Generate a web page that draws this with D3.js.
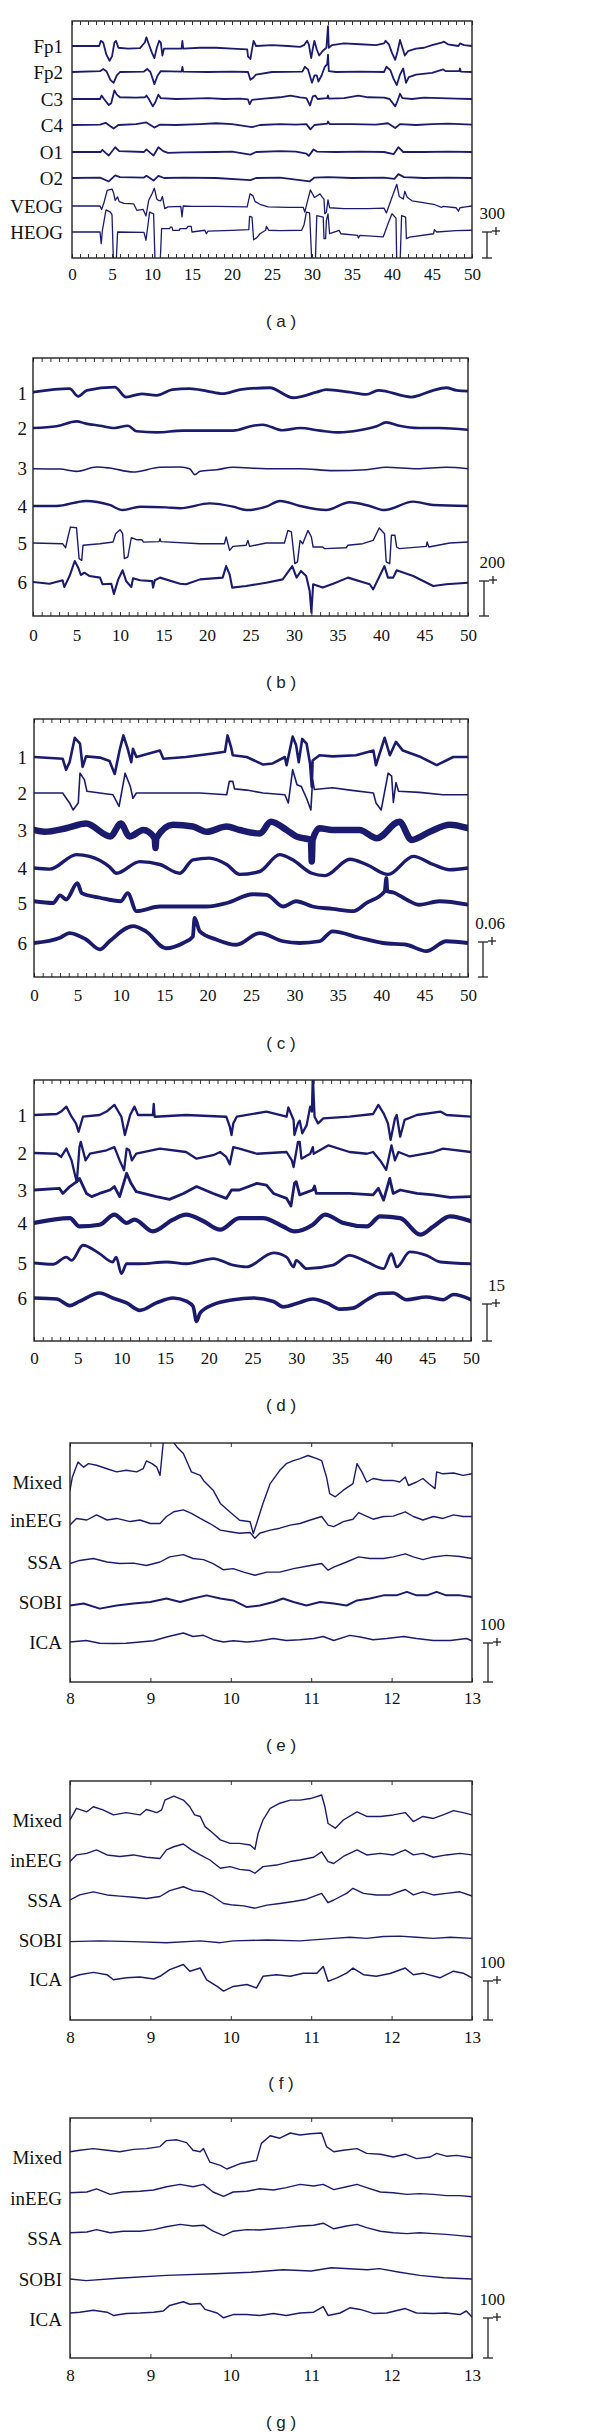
<!DOCTYPE html>
<html>
<head>
<meta charset="utf-8">
<script src="https://cdn.jsdelivr.net/npm/d3@7"></script>
<style>
body { margin: 0; background: #fff; }
</style>
</head>
<body>
<div id="chart"></div>
<script>
// ---- panel (a): raw channels, [seconds, uV] ----
var aNames = ['Fp1', 'Fp2', 'C3', 'C4', 'O1', 'O2', 'VEOG', 'HEOG'];
var aFp1 = [[0,0],[3.4,0],[3.6,60],[3.9,40],[4.3,-100],[4.7,-170],[5.0,-120],[5.3,40],[5.5,60],[5.8,-20],[7,-30],[8.5,-25],[9.1,40],[9.3,100],[9.6,20],[10.0,-80],[10.3,-140],[10.6,-20],[10.9,60],[11.1,40],[11.3,-110],[11.5,-30],[12.5,-30],[13.7,-30],[13.8,60],[13.9,-30],[16,-20],[18,-20],[20,-30],[21.9,-40],[22.0,-120],[22.3,-150],[22.5,-40],[22.7,60],[23,0],[25,10],[27,0],[28.5,-10],[29.0,10],[29.4,60],[29.6,20],[29.9,-140],[30.1,-30],[30.3,60],[30.6,-40],[30.9,-110],[31.3,-60],[31.8,-20],[31.9,100],[32.0,230],[32.1,-20],[32.5,10],[34,30],[36,20],[38,10],[39,30],[39.2,60],[39.6,20],[40.0,-80],[40.4,-160],[40.7,-60],[41.0,70],[41.3,-20],[41.6,-110],[42,-60],[43,-30],[44,-20],[45,10],[46.2,40],[46.5,50],[47,20],[48.3,0],[48.5,30],[49,10],[50,0]];
var aFp2 = [[0,0],[3.5,10],[3.9,35],[4.3,10],[4.8,-90],[5.2,-125],[5.6,-40],[6,0],[9,5],[9.4,35],[9.8,0],[10.3,-140],[10.7,-40],[11.1,10],[13.7,5],[13.8,60],[13.9,5],[17,0],[20,5],[22,0],[22.3,-90],[22.6,-70],[23,-30],[25,0],[28.8,5],[29.1,60],[29.5,30],[30.0,-125],[30.3,-40],[30.6,-40],[30.8,-110],[31.2,-40],[31.6,60],[31.9,90],[32.0,200],[32.1,10],[33,0],[36,5],[39,0],[39.3,60],[39.8,20],[40.2,-80],[40.6,-150],[41.0,-30],[41.4,40],[41.75,-125],[42.1,-60],[43,-30],[45,-10],[46.4,30],[46.7,10],[48.4,10],[48.5,40],[48.6,5],[50,0]];
var aC3 = [[0,0],[3.5,0],[3.7,40],[4.0,0],[4.6,-70],[4.9,-50],[5.3,100],[5.6,50],[6,20],[8,15],[9.1,20],[9.3,40],[9.6,0],[10.1,-85],[10.4,-40],[10.8,50],[11.1,10],[13,0],[15,5],[17,10],[19,0],[21,5],[22,-5],[22.2,-60],[22.5,-10],[24,5],[26,20],[27.3,40],[28.5,20],[29.3,10],[29.75,-75],[30.1,30],[30.4,40],[30.7,0],[31.9,10],[32.0,40],[32.1,5],[34,10],[35.8,40],[37,20],[39,15],[39.7,0],[40.4,-85],[40.7,-20],[41.0,60],[41.3,10],[42.5,0],[44,15],[46,10],[48,5],[50,0]];
var aC4 = [[0,0],[3.5,5],[4.2,25],[5.2,-40],[5.8,0],[8,10],[9.3,30],[10.3,-30],[11,5],[13,0],[16,10],[18,20],[20,10],[22.5,-25],[23.5,0],[26,10],[28,5],[29.3,10],[29.8,-50],[30.3,0],[31.9,15],[32,40],[32.2,10],[35,10],[38,5],[39.5,20],[40.4,-35],[41,10],[43,0],[45,10],[47,15],[50,5]];
var aO1 = [[0,0],[3.6,0],[3.8,25],[4.2,-10],[4.6,-40],[5.4,55],[5.9,10],[9,0],[9.3,30],[9.8,-10],[10.2,-40],[10.8,55],[11.4,10],[12,-10],[14,-5],[18,0],[20,5],[22.3,-30],[23,0],[26,10],[28,5],[29.3,-20],[29.6,-45],[30.2,30],[30.6,5],[33,0],[36,5],[39,0],[40.2,-25],[40.8,55],[41.4,0],[44,0],[47,5],[50,0]];
var aO2 = [[0,0],[3.5,5],[4.6,-40],[5.4,30],[6,10],[9,5],[9.3,25],[10.2,-30],[10.8,25],[11.5,0],[14,5],[18,0],[22.3,-25],[23,0],[26,5],[29.7,-40],[30.3,5],[32,10],[35,0],[39,5],[40.3,-10],[40.8,45],[41.5,10],[44,0],[47,5],[50,0]];
var aVeog = [[0,0],[3.5,0],[3.7,-40],[4.0,40],[4.4,180],[5.0,195],[5.2,150],[5.4,65],[5.7,105],[5.9,50],[6.5,30],[7.7,25],[8.1,-50],[8.9,-40],[9.25,-115],[9.6,70],[10.0,140],[10.3,205],[10.6,80],[10.8,65],[11.1,60],[11.3,110],[11.6,-30],[12,-10],[13.6,-5],[13.75,-125],[13.9,0],[15,-5],[18,-5],[21.9,-10],[22.25,140],[22.6,120],[22.9,50],[23.5,20],[24.5,-10],[27,-15],[28.9,-15],[29.1,-70],[29.5,80],[29.8,185],[30.3,100],[30.5,110],[31.0,140],[31.3,100],[31.5,80],[31.6,-90],[31.8,-70],[32.0,70],[32.2,-20],[34,-30],[37,-30],[39,-25],[39.3,-80],[39.8,50],[40.6,250],[40.9,110],[41.4,80],[41.6,170],[41.9,100],[42.5,60],[43.5,45],[45.2,20],[46.2,-15],[46.4,-5],[48.0,-20],[48.3,-60],[48.5,-20],[49.2,-10],[50,0]];
var aHeog = [[0,0],[3.5,0],[3.65,-135],[3.8,20],[4.25,255],[4.8,230],[5.0,200],[5.2,-400],[5.5,-400],[5.7,0],[9.0,-5],[9.25,-95],[9.7,230],[10.2,210],[10.4,-400],[11.0,-400],[11.2,38],[12.2,38],[12.3,57],[12.5,57],[12.6,19],[13.4,19],[13.5,38],[14.3,38],[14.5,65],[14.9,65],[15.0,0],[16.6,20],[16.8,-20],[17.0,10],[20,19],[22.1,27],[22.2,180],[22.5,172],[22.7,-90],[23.1,-65],[23.5,-20],[24.2,20],[24.3,65],[24.6,20],[26,15],[28.7,20],[29.0,80],[29.3,230],[29.7,220],[30.0,-400],[30.4,-400],[30.6,190],[31.4,172],[31.5,-77],[31.7,-77],[31.8,134],[32.0,210],[32.2,-20],[33.4,19],[33.6,-20],[35.7,-38],[35.8,-69],[36.0,-38],[38.9,-57],[39.5,96],[40.0,210],[40.5,160],[40.6,-400],[41.0,-400],[41.2,190],[41.7,172],[41.8,-77],[42.2,-60],[45.2,-20],[45.3,27],[45.6,0],[48,15],[50,20]];

// ---- panel (b) ----
var bS1 = [[0,5],[4.2,25],[5.2,-19],[6.2,15],[9.4,34],[10.7,-23],[12.5,-5],[14.2,-13],[16,19],[18,25],[20,11],[21.8,-4],[23.8,19],[27.2,30],[29.9,-27],[32.6,5],[33.7,19],[36.4,5],[38.3,-8],[39.7,15],[43.5,-23],[44.4,-13],[46,15],[47.5,30],[48.7,15],[50,11]];
var bS2 = [[0,0],[2.7,10],[5,38],[6.1,25],[7.7,13],[9.4,0],[10.9,13],[11.9,-19],[14.2,-25],[17.2,-15],[20,-15],[23,-15],[25.3,13],[26.4,19],[28.7,-13],[30.7,0],[33,-15],[35.2,-25],[37.5,-13],[39.5,10],[40.6,32],[42.1,13],[44.4,0],[46.7,0],[50,-10]];
var bS3 = [[0,-4],[3.1,-6],[5,-19],[7.3,6],[8.8,0],[11.5,-23],[14.6,4],[16.9,6],[18,-4],[18.6,-38],[19.2,-19],[21.1,-10],[23,4],[26.8,-4],[30.7,-4],[34.5,-15],[38.3,-10],[40.6,4],[44.1,-4],[47.5,4],[50,-4]];
var bS4 = [[0,0],[2.7,0],[6.1,29],[8.8,6],[10.3,-23],[12.3,-4],[15.3,-8],[16.9,-13],[20.3,15],[23,-4],[24.5,-23],[26.8,-4],[28.4,29],[30.7,0],[33.7,-23],[36.4,21],[38.7,0],[40.4,-23],[43.7,25],[46,6],[50,0]];
var bS5 = [[0,0],[3.4,-4],[3.75,-27],[4.0,30],[4.3,91],[5.0,87],[5.3,-89],[5.6,-99],[5.75,-13],[7.7,-4],[9.2,6],[9.5,53],[10,76],[10.3,53],[10.5,-89],[10.9,-80],[11.3,30],[11.9,19],[12.5,19],[12.7,5],[14.5,8],[14.6,25],[14.7,8],[19.2,-4],[22,-4],[22.2,34],[22.6,-42],[23,-19],[24.5,-13],[24.7,15],[24.9,-19],[26.8,0],[28.9,0],[29.3,72],[29.7,63],[30.1,-118],[30.4,-108],[30.7,15],[31,-4],[31.6,72],[32,34],[32.2,-23],[33.3,-23],[33.5,-32],[36,-27],[36.2,-13],[37.9,-4],[39.1,15],[39.8,86],[40.4,53],[40.6,-108],[41,-118],[41.2,44],[41.6,44],[41.8,-23],[42.1,-32],[45.2,-19],[45.3,6],[45.5,-23],[47.9,0],[50,6]];
var bS6 = [[0,0],[1.9,-10],[3.4,10],[3.6,-29],[4.2,34],[4.8,120],[5.2,82],[5.5,40],[5.9,53],[6.5,34],[7.7,25],[8,-13],[9,-10],[9.3,-68],[9.8,15],[10.3,67],[10.7,6],[11.3,-29],[11.5,21],[12.3,10],[13.7,5],[13.8,-32],[14.0,10],[14.6,25],[16.9,-10],[17.6,-13],[19.2,15],[21.8,25],[22.2,91],[22.6,44],[22.9,-32],[24.5,-23],[26.8,-4],[28.7,15],[29.8,91],[30.3,25],[30.8,63],[31.4,34],[31.8,-51],[32,-175],[32.2,-13],[33.3,-32],[34.5,-10],[36.2,25],[38.7,-13],[39.1,-42],[40.4,91],[40.8,25],[41.4,25],[41.8,67],[43.7,34],[46,-23],[47.5,-13],[50,-4]];

// ---- panel (c) ----
var cS1 = [[0,0],[3.3,-0.003],[3.7,-0.022],[4.1,-0.009],[4.7,0.033],[5.3,0.023],[5.6,-0.017],[6,0.001],[7.6,-0.001],[8.7,-0.007],[9.3,-0.029],[9.9,0.014],[10.3,0.037],[10.8,0.014],[11.2,-0.009],[11.4,0.014],[11.8,0],[14.5,0.011],[14.9,-0.003],[17.5,0],[20.6,0.006],[22,0.009],[22.3,0.037],[22.7,0.017],[22.9,0.003],[24.5,0],[26.4,-0.013],[27.5,-0.011],[28.9,0],[29.1,-0.014],[29.8,0.035],[30.2,0.02],[30.5,-0.009],[30.9,0.031],[31.4,0.023],[31.8,-0.011],[32,-0.051],[32.1,-0.006],[32.9,0.003],[34.4,0.001],[37.1,0.003],[39.1,0.011],[39.4,-0.014],[40.4,0.033],[41,0.003],[41.7,0.026],[42.5,0.011],[44.4,0.001],[46.4,-0.014],[48.3,0],[50,0]];
var cS2 = [[0,0],[3.3,0],[4.1,-0.017],[4.5,-0.029],[5.1,-0.017],[5.3,0.034],[5.8,0.023],[6.1,0.003],[9.1,-0.003],[9.8,-0.023],[10.5,0.034],[11.1,0.011],[11.4,-0.009],[11.8,0],[19.1,0],[22.2,-0.003],[22.5,0.02],[22.9,0.02],[23.1,0.007],[24.5,0.005],[26.4,0],[28.9,-0.003],[29.3,-0.017],[29.8,0.04],[30.3,0.014],[30.8,0.011],[31.4,-0.009],[31.9,-0.029],[32.1,0.023],[32.3,0.006],[34.4,0.009],[36.4,0.005],[39.1,0],[39.4,-0.017],[40,-0.029],[40.8,0.034],[41.2,0.029],[41.4,-0.016],[41.7,0.018],[42,0.003],[44.4,0.001],[47.1,-0.003],[50,-0.003]];
var cS3 = [[0,0],[1.2,-0.003],[3.7,0.003],[6,0.011],[8.8,-0.011],[10,0.011],[11,-0.011],[12.6,0],[13.9,-0.014],[14.0,-0.031],[14.1,-0.014],[16,0.009],[18.3,0.006],[19.9,-0.003],[22.2,0.006],[23.7,0],[26,-0.006],[27.3,0.014],[29.1,0],[30.2,-0.011],[31.9,-0.017],[32.0,-0.054],[32.1,-0.017],[32.9,0.003],[34.4,0],[37.5,0],[39.5,-0.014],[42.1,0.014],[43.5,-0.017],[45.6,-0.003],[47.9,0.009],[50,0.003]];
var cS4 = [[0,0],[1.8,-0.002],[4.9,0.023],[6.4,0.02],[8.7,0.002],[9.5,-0.009],[12.2,0.011],[14.5,0.006],[16.8,-0.009],[18.3,0.014],[20.2,0.017],[22.2,0.006],[23.7,-0.011],[26,-0.006],[28.3,0.023],[29.8,0.014],[32,-0.009],[33.5,-0.013],[36.4,0.015],[38.3,0.006],[40.8,-0.011],[43.7,0.02],[46,0.006],[47.9,-0.003],[50,0]];
var cS5 = [[0,0.003],[2.2,0],[3,0.013],[3.7,0.006],[5,0.034],[5.5,0.017],[7.6,0.009],[10,0.003],[10.8,0.017],[11.8,-0.014],[14.5,-0.006],[17.5,-0.006],[19.9,-0.006],[22.2,0],[25.2,0.015],[26.8,0.014],[28.7,-0.006],[30.2,0.003],[32.1,-0.006],[34.4,-0.01],[36.8,-0.014],[38.3,0],[40.4,0.02],[40.6,0.043],[40.7,0.02],[41.4,0.018],[42.9,0.006],[44.4,-0.003],[46.7,0.003],[50,-0.003]];
var cS6 = [[0,0],[3,0.009],[4.1,0.017],[6,0.006],[7.6,-0.011],[8.7,0.003],[11.4,0.029],[12.9,0.02],[15.2,-0.009],[17.2,0],[18.3,0.011],[18.5,0.043],[19.1,0.02],[21,0.006],[23.3,-0.003],[26,0.017],[28.7,0.003],[30.6,0],[32.9,0.003],[34.4,0.02],[37.5,0.009],[40.2,0],[42.9,-0.003],[45.2,-0.014],[47.5,0.003],[50,0]];

// ---- panel (d) ----
var dS1 = [[0,0],[2.6,0.4],[3.1,1.4],[3.7,3.4],[4.3,-0.7],[4.8,-3.4],[5.1,-6.8],[5.6,-0.7],[7.5,0],[8.3,1.4],[9.2,4.1],[10,-0.7],[10.4,-8.1],[11,0],[11.5,3.4],[11.9,0],[13.6,0],[13.7,4.5],[13.8,-0.7],[17.4,0],[22,-0.7],[22.4,-4.7],[22.6,-8.1],[22.8,-3.4],[23.2,-0.7],[26.6,1.4],[28.9,-0.7],[29.1,3.1],[29.7,-2],[29.8,-8.1],[30.2,-3.4],[30.4,-2.3],[30.7,-7.4],[31.2,-4.1],[31.6,3.4],[31.8,1.4],[31.9,16.2],[32.1,-0.7],[32.5,-3.4],[33.1,-1.4],[36.1,-0.7],[38.8,0.4],[39.4,4.1],[40,0.7],[40.5,-3.4],[40.8,-10.1],[41.3,-1.4],[41.5,0],[41.9,-8.8],[42.4,-2],[43.8,0],[46.5,1.4],[47.2,0],[50,-0.7]];
var dS2 = [[0,0],[2.6,-0.3],[3.1,-1.6],[3.7,1.8],[4.3,-3],[4.7,-9],[4.9,-11.7],[5.2,2.4],[5.35,4.5],[5.9,-3],[6.4,-0.3],[8.3,1.1],[9.2,2.4],[9.8,-3],[10.3,-7],[10.6,1.8],[10.9,1.1],[11.2,-3],[11.7,-0.3],[14.4,1.8],[17.4,0.4],[18.6,-2.3],[20.5,-0.9],[21.3,0.4],[22,-1.6],[22.4,-4.6],[22.8,2.4],[23.5,1.8],[25.5,-0.3],[28.9,0.4],[29.5,-3],[29.7,-5.7],[30.2,4.5],[30.4,4.5],[30.6,-2.3],[31.6,-0.3],[31.9,2.4],[32.0,-0.3],[32.7,1.1],[33.7,3.1],[36.1,0.4],[38.1,-0.3],[38.8,0.4],[39.6,-3],[40.3,-6.8],[40.9,3.1],[41.3,-3],[41.7,0.4],[43,-1.4],[45.7,0.4],[46.8,1.8],[50,0.4]];
var dS3 = [[0,0],[2.9,0.7],[3.3,-1.4],[4.1,1.4],[4.9,3.4],[5.2,4.7],[6,-1.4],[6.6,-2.7],[7.5,-1.4],[8.7,0],[9.2,1.4],[9.8,-2.7],[10.6,6.8],[11.1,2.7],[11.7,-0.7],[14,-2.7],[15.5,-3.8],[17.1,-1.4],[18.6,1.4],[20.5,-1.4],[22,-3.4],[22.6,0],[23.5,0],[25.5,2.7],[26.6,2],[27.4,-1.4],[28.9,-3.4],[29.4,-6.5],[29.8,2.7],[30,3.4],[30.4,-2],[31.9,0],[32.1,1.6],[32.3,-1.4],[36.1,-1.4],[38.8,-2],[39.4,0.7],[40,-4.1],[40.7,4.7],[41.1,-1.4],[41.9,0],[43.8,-1.4],[45.7,-2],[47.6,-3],[50,-2.7]];
var dS4 = [[0,0],[4.1,2],[5.2,-1.4],[7.5,-0.7],[9.2,3.4],[10.6,0],[11.5,1.4],[13.6,-3.4],[15.9,1.4],[17.4,3.4],[19.4,0.7],[21.3,-2.7],[23.5,2],[26.2,2],[28.5,-1.4],[29.8,-3.4],[31.9,-0.7],[33.3,3.4],[35.4,0],[38.1,-1.4],[39.6,2.7],[41.9,2],[44.2,-4.7],[45.7,-1.4],[47.6,2.7],[50,0.7]];
var dS5 = [[0,0],[2.2,-0.5],[3.7,2.4],[4.3,1.1],[5.6,7.2],[7.5,3.8],[9,0.4],[9.4,2.4],[10,-4.3],[10.6,-0.3],[12.1,-0.3],[15.2,0.4],[17.4,-0.3],[20.5,1.8],[22.8,-0.9],[24.3,-1.6],[27.4,4.1],[28.9,2.4],[29.7,-1.6],[30,1.1],[31.2,-2.3],[34.2,-0.9],[36.1,3.1],[38.1,0.4],[40,-2.3],[40.9,3.8],[41.5,-1.6],[43,4.5],[44.9,3.1],[46.5,0.4],[50,-0.3]];
var dS6 = [[0,0],[2.6,-0.4],[4.1,-3.1],[5.2,-1.4],[7.5,2],[9,0],[10.6,-2],[12.1,-5],[14,-2],[15.9,0],[17.5,-1.4],[18.2,-3.4],[18.6,-9.5],[19,-6.1],[20.5,-2.7],[22.8,-0.7],[25.1,0],[27.4,-1.4],[28.5,-3.6],[30.4,-1.8],[31.9,-0.4],[33.5,-2],[35,-4.5],[36.5,-4.1],[38.1,-0.7],[39.6,1.8],[41.1,2],[42.6,-0.7],[44.9,0.4],[46.8,-0.7],[48,1.4],[50,-0.7]];

// ---- panels (e)-(g): 8-13 s zoom, uV ----
var zoomNames = ['Mixed', 'inEEG', 'SSA', 'SOBI', 'ICA'];

var eMixedT = [8.00,8.03,8.10,8.17,8.23,8.33,8.46,8.58,8.70,8.83,8.91,8.95,9.02,9.08,9.12,9.16,9.24,9.33,9.41,9.51,9.62,9.66,9.78,9.87,9.99,10.11,10.24,10.28,10.32,10.40,10.49,10.61,10.69,10.78,10.86,10.96,11.07,11.13,11.19,11.23,11.30,11.40,11.52,11.57,11.63,11.69,11.77,11.90,12.02,12.10,12.17,12.21,12.31,12.39,12.46,12.54,12.56,12.64,12.77,12.89,13.00];
var eMixedV = [-21,13,51,38,47,43,34,26,30,26,34,54,47,38,17,102,115,90,73,26,17,4,-21,-55,-77,-98,-102,-132,-107,-55,-4,30,47,55,60,68,60,55,13,-30,-38,-21,-4,47,26,0,9,4,4,0,13,-9,0,9,-4,-17,26,21,23,17,21];
var eInEEGT = [8.0,8.08,8.21,8.33,8.46,8.58,8.75,8.87,9.0,9.12,9.2,9.29,9.41,9.51,9.62,9.74,9.87,9.99,10.11,10.24,10.3,10.36,10.49,10.61,10.74,10.86,10.99,11.13,11.21,11.28,11.4,11.52,11.59,11.65,11.77,11.9,12.02,12.17,12.27,12.39,12.52,12.64,12.77,12.89,13.0];
var eInEEGV = [-13,4,0,13,0,4,-4,0,-9,-9,9,21,26,17,4,-9,-26,-30,-34,-32,-47,-34,-26,-21,-13,-9,0,9,-13,-17,-4,2,19,13,2,9,10,21,9,0,9,4,13,9,9];
var eSSAT = [8.0,8.12,8.29,8.46,8.62,8.79,8.95,9.12,9.24,9.41,9.53,9.66,9.78,9.91,10.03,10.16,10.3,10.45,10.61,10.78,10.94,11.13,11.21,11.28,11.44,11.59,11.73,11.9,12.02,12.17,12.27,12.39,12.52,12.68,12.85,13.0];
var eSSAV = [-4,4,9,0,-4,-3,-9,0,13,19,9,6,-4,-20,-17,-26,-34,-26,-26,-17,-11,-4,-21,-13,0,13,9,9,13,21,13,6,13,17,14,9];
var eSOBIT = [8.0,8.17,8.37,8.58,8.79,9.0,9.2,9.37,9.53,9.7,9.87,10.03,10.2,10.36,10.53,10.65,10.78,10.94,11.11,11.28,11.44,11.57,11.73,11.9,12.06,12.19,12.31,12.44,12.56,12.68,12.85,13.0];
var eSOBIV = [-9,-4,-17,-9,-4,0,9,0,9,17,9,4,-13,-9,0,9,0,-9,0,-4,-9,4,9,17,17,26,17,17,26,17,17,13];
var eICAT = [8.0,8.2,8.37,8.54,8.7,8.87,9.04,9.2,9.41,9.53,9.66,9.78,9.91,10.03,10.2,10.36,10.53,10.69,10.86,11.03,11.15,11.28,11.48,11.61,11.77,11.94,12.15,12.31,12.52,12.73,12.93,13.0];
var eICAV = [0,4,-3,-4,-3,0,3,13,23,14,17,6,0,3,0,3,9,4,6,9,14,4,17,13,6,9,14,9,4,4,9,3];

var fMixedT = [8.0,8.08,8.21,8.29,8.41,8.54,8.7,8.87,8.95,9.08,9.14,9.18,9.29,9.41,9.49,9.55,9.62,9.68,9.78,9.87,9.99,10.11,10.24,10.3,10.34,10.4,10.49,10.61,10.74,10.86,10.99,11.13,11.17,11.21,11.3,11.4,11.57,11.69,11.86,12.02,12.17,12.27,12.39,12.52,12.64,12.77,12.89,13.0];
var fMixedV = [0,30,21,34,26,13,19,13,27,19,26,51,61,51,34,13,9,-17,-34,-51,-60,-60,-64,-75,-34,0,30,43,51,51,55,64,34,-9,-21,0,21,9,9,13,19,-4,9,4,13,24,19,13];
var fInEEGT = [8.0,8.08,8.21,8.33,8.46,8.62,8.79,8.95,9.12,9.2,9.29,9.41,9.51,9.62,9.74,9.87,9.99,10.11,10.24,10.3,10.4,10.57,10.74,10.86,11.03,11.13,11.21,11.28,11.4,11.57,11.69,11.86,12.02,12.17,12.27,12.39,12.52,12.68,12.85,13.0];
var fInEEGV = [-4,13,17,26,13,9,13,7,4,26,34,41,26,13,0,-21,-17,-24,-27,-34,-17,-13,-4,0,7,21,-4,-9,9,26,13,17,13,26,13,17,7,13,17,13];
var fSSAT = [8.0,8.12,8.29,8.46,8.62,8.79,8.95,9.12,9.24,9.41,9.53,9.66,9.78,9.91,10.03,10.16,10.3,10.45,10.61,10.78,10.94,11.13,11.21,11.28,11.44,11.52,11.65,11.81,11.98,12.17,12.27,12.39,12.52,12.68,12.85,13.0];
var fSSAV = [0,13,21,13,10,7,4,9,24,34,24,21,9,-9,-13,-15,-21,-13,-9,-4,2,17,-7,0,17,30,17,13,13,27,13,21,13,17,21,10];
var fSOBIT = [8.0,8.37,8.79,9.2,9.62,9.87,10.03,10.45,10.86,11.28,11.48,11.69,11.9,12.1,12.31,12.52,12.73,13.0];
var fSOBIV = [-4,-2,-4,-7,-2,-7,-2,0,-2,4,7,4,9,10,7,4,7,4];
var fICAT = [8.0,8.12,8.29,8.46,8.54,8.7,8.87,9.04,9.12,9.24,9.41,9.49,9.62,9.7,9.83,9.91,10.03,10.2,10.32,10.4,10.57,10.74,10.9,11.07,11.15,11.21,11.32,11.44,11.52,11.65,11.81,11.98,12.17,12.27,12.39,12.6,12.77,12.89,13.0];
var fICAV = [3,11,17,11,-2,3,5,0,7,24,37,20,28,-2,-19,-31,-19,-14,-23,7,11,7,15,15,32,-6,3,15,28,11,7,14,28,11,15,3,20,15,3];

var gMixedT = [8.0,8.12,8.29,8.46,8.62,8.79,8.95,9.12,9.2,9.33,9.45,9.53,9.62,9.66,9.74,9.87,9.95,10.11,10.28,10.32,10.38,10.49,10.61,10.74,10.86,10.99,11.13,11.19,11.28,11.4,11.57,11.69,11.86,12.02,12.17,12.31,12.48,12.56,12.68,12.81,13.0];
var gMixedV = [13,17,21,17,13,19,21,26,41,43,36,17,13,21,-13,-21,-30,-17,-10,-9,34,53,47,60,55,58,60,26,13,17,21,9,7,0,7,-4,0,9,2,4,-2];
var gInEEGT = [8.0,8.21,8.33,8.5,8.66,8.87,9.04,9.2,9.37,9.53,9.66,9.78,9.91,10.03,10.2,10.36,10.53,10.69,10.86,11.03,11.15,11.28,11.44,11.57,11.69,11.86,12.02,12.19,12.35,12.52,12.68,12.85,13.0];
var gInEEGV = [13,15,23,9,15,17,20,28,34,28,34,15,4,15,17,23,20,26,34,30,34,21,28,34,26,15,13,9,11,9,6,6,3];
var gSSAT = gInEEGT;
var gSSAV = [13,15,21,13,17,17,21,28,34,30,32,17,6,17,21,20,23,26,30,32,37,23,30,34,26,17,13,11,13,11,9,6,3];
var gSOBIT = [8.0,8.2,8.6,9.2,9.8,10.25,10.65,11.0,11.25,11.7,11.85,12.1,12.35,12.65,13.0];
var gSOBIV = [0,-4,2,9,13,17,23,20,28,23,26,17,9,3,0];
var gICAT = [8.0,8.12,8.29,8.46,8.54,8.7,8.87,9.04,9.16,9.24,9.41,9.49,9.62,9.68,9.83,9.91,10.03,10.2,10.36,10.53,10.69,10.86,11.03,11.15,11.21,11.36,11.48,11.61,11.77,11.94,12.17,12.31,12.52,12.68,12.85,12.93,13.0];
var gICAV = [15,17,22,17,9,14,15,17,20,34,43,37,39,24,15,3,11,11,9,14,9,15,17,31,9,15,28,24,14,15,26,15,14,15,11,20,5];

var longTicks = d3.range(0, 51);
var longLabels = [0, 5, 10, 15, 20, 25, 30, 35, 40, 45, 50];
var shortTicks = [8, 9, 10, 11, 12, 13];

var traceColor = '#1b1b6e';
var serif = '"Liberation Serif", "Times New Roman", serif';

// smooth: slow-wave traces drawn with a monotone curve instead of straight segments
var panels = [
    { cap: '( a )', domain: [0, 50], ticks: longTicks, tickLabels: longLabels,
      left: 72, right: 472, top: 21, bottom: 258, pad: 10, capY: 321,
      rows: [46, 72, 99, 125, 152, 178, 206, 232], names: aNames, labelX: 63,
      series: [aFp1, aFp2, aC3, aC4, aO1, aO2, aVeog, aHeog],
      widths: [1.8, 1.8, 1.8, 1.8, 1.8, 1.8, 1.3, 1.3],
      smooth: [0, 0, 0, 0, 0, 0, 0, 0],
      bar: 300, barLabel: '300', barPx: 26, barX: 487 },
    { cap: '( b )', domain: [0, 50], ticks: longTicks, tickLabels: longLabels,
      left: 33, right: 468, top: 358, bottom: 616, pad: 13, capY: 682,
      rows: [393, 428, 468, 506, 543, 582], names: ['1', '2', '3', '4', '5', '6'], labelX: 27,
      series: [bS1, bS2, bS3, bS4, bS5, bS6],
      widths: [2.8, 2.6, 1.6, 2.4, 1.4, 2.1],
      smooth: [1, 1, 1, 1, 0, 0],
      bar: 200, barLabel: '200', barPx: 35, barX: 484 },
    { cap: '( c )', domain: [0, 50], ticks: longTicks, tickLabels: longLabels,
      left: 34, right: 468, top: 719, bottom: 977, pad: 12, capY: 1043,
      rows: [757, 793, 830, 868, 903, 943], names: ['1', '2', '3', '4', '5', '6'], labelX: 27,
      series: [cS1, cS2, cS3, cS4, cS5, cS6],
      widths: [2.6, 1.6, 6.5, 3.4, 3.8, 3.8],
      smooth: [0, 0, 1, 1, 1, 1],
      bar: 0.06, barLabel: '0.06', barPx: 35, barX: 483 },
    { cap: '( d )', domain: [0, 50], ticks: longTicks, tickLabels: longLabels,
      left: 34, right: 471, top: 1080, bottom: 1341, pad: 11, capY: 1405,
      rows: [1115, 1153, 1190, 1223, 1263, 1298], names: ['1', '2', '3', '4', '5', '6'], labelX: 27,
      series: [dS1, dS2, dS3, dS4, dS5, dS6],
      widths: [2.3, 2.3, 2.8, 4.2, 2.8, 3.6],
      smooth: [0, 0, 0, 1, 1, 1],
      bar: 15, barLabel: '15', barPx: 37, barX: 487 },
    { cap: '( e )', domain: [8, 13], ticks: shortTicks, tickLabels: shortTicks,
      left: 70, right: 472, top: 1443, bottom: 1682, pad: 10, capY: 1745,
      rows: [1482, 1520, 1562, 1602, 1642], names: zoomNames, labelX: 62,
      series: [d3.zip(eMixedT, eMixedV), d3.zip(eInEEGT, eInEEGV), d3.zip(eSSAT, eSSAV), d3.zip(eSOBIT, eSOBIV), d3.zip(eICAT, eICAV)],
      widths: [1.4, 1.4, 1.4, 2.0, 1.5],
      smooth: [0, 0, 0, 0, 0],
      bar: 100, barLabel: '100', barPx: 39, barX: 488 },
    { cap: '( f )', domain: [8, 13], ticks: shortTicks, tickLabels: shortTicks,
      left: 70, right: 472, top: 1781, bottom: 2020, pad: 11, capY: 2083,
      rows: [1820, 1860, 1900, 1940, 1979], names: zoomNames, labelX: 62,
      series: [d3.zip(fMixedT, fMixedV), d3.zip(fInEEGT, fInEEGV), d3.zip(fSSAT, fSSAV), d3.zip(fSOBIT, fSOBIV), d3.zip(fICAT, fICAV)],
      widths: [1.4, 1.4, 1.4, 1.3, 1.5],
      smooth: [0, 0, 0, 0, 0],
      bar: 100, barLabel: '100', barPx: 39, barX: 488 },
    { cap: '( g )', domain: [8, 13], ticks: shortTicks, tickLabels: shortTicks,
      left: 70, right: 472, top: 2118, bottom: 2358, pad: 11, capY: 2422,
      rows: [2157, 2198, 2238, 2279, 2319], names: zoomNames, labelX: 62,
      series: [d3.zip(gMixedT, gMixedV), d3.zip(gInEEGT, gInEEGV), d3.zip(gSSAT, gSSAV), d3.zip(gSOBIT, gSOBIV), d3.zip(gICAT, gICAV)],
      widths: [1.4, 1.4, 1.4, 1.4, 1.5],
      smooth: [0, 0, 0, 0, 0],
      bar: 100, barLabel: '100', barPx: 40, barX: 488 }
];

var svg = d3.select('#chart')
    .append('svg')
    .attr('width', 600)
    .attr('height', 2436);

panels.forEach(function(p, pi) {
    drawPanel(p, pi);
});

function drawPanel(p, pi) {
    var x = d3.scaleLinear().domain(p.domain).range([p.left, p.right]);
    var amp = d3.scaleLinear().domain([0, p.bar]).range([0, p.barPx]);
    var g = svg.append('g').attr('class', 'panel');

    var clipId = 'clip' + pi;
    svg.append('clipPath').attr('id', clipId)
        .append('rect')
        .attr('x', p.left)
        .attr('y', p.top)
        .attr('width', p.right - p.left)
        .attr('height', p.bottom - p.top);

    var traces = g.append('g').attr('clip-path', 'url(#' + clipId + ')');

    p.series.forEach(function(s, i) {
        var row = p.rows[i];
        var line = d3.line()
            .curve(p.smooth[i] ? d3.curveMonotoneX : d3.curveLinear)
            .x(function(d) { return x(d[0]); })
            .y(function(d) { return row - amp(d[1]); });
        traces.append('path')
            .attr('d', line(s))
            .attr('fill', 'none')
            .attr('stroke', traceColor)
            .attr('stroke-width', p.widths[i])
            .attr('stroke-linejoin', 'round')
            .attr('stroke-linecap', 'round');

        g.append('text')
            .attr('x', p.labelX)
            .attr('y', row)
            .attr('dy', '0.35em')
            .attr('text-anchor', 'end')
            .style('font-family', serif)
            .style('font-size', '19px')
            .attr('fill', '#111')
            .text(p.names[i]);
    });

    // inward ticks on bottom (with labels) and top
    var bottomAxis = d3.axisBottom(x)
        .tickValues(p.ticks)
        .tickSize(-4)
        .tickPadding(p.pad)
        .tickFormat(function(d) { return p.tickLabels.indexOf(d) >= 0 ? d : ''; });
    g.append('g')
        .attr('transform', 'translate(0,' + p.bottom + ')')
        .call(bottomAxis)
        .call(function(a) {
            a.select('.domain').remove();
            a.selectAll('line').attr('stroke', '#333');
            a.selectAll('text').style('font-family', serif).style('font-size', '17px').attr('fill', '#111');
        });

    var topAxis = d3.axisTop(x).tickValues(p.ticks).tickSize(-4).tickFormat('');
    g.append('g')
        .attr('transform', 'translate(0,' + p.top + ')')
        .call(topAxis)
        .call(function(a) {
            a.select('.domain').remove();
            a.selectAll('line').attr('stroke', '#333');
        });

    g.append('rect')
        .attr('x', p.left)
        .attr('y', p.top)
        .attr('width', p.right - p.left)
        .attr('height', p.bottom - p.top)
        .attr('fill', 'none')
        .attr('stroke', '#222')
        .attr('stroke-width', 1.4);

    // scale bar
    var barTop = p.bottom - amp(p.bar);
    var sb = g.append('g').attr('stroke', '#222').attr('stroke-width', 1.3);
    sb.append('line').attr('x1', p.barX).attr('x2', p.barX).attr('y1', barTop).attr('y2', p.bottom);
    sb.append('line').attr('x1', p.barX - 5).attr('x2', p.barX + 5).attr('y1', barTop).attr('y2', barTop);
    sb.append('line').attr('x1', p.barX - 5).attr('x2', p.barX + 5).attr('y1', p.bottom).attr('y2', p.bottom);
    sb.append('line').attr('x1', p.barX + 5).attr('x2', p.barX + 13).attr('y1', barTop - 1).attr('y2', barTop - 1);
    sb.append('line').attr('x1', p.barX + 9).attr('x2', p.barX + 9).attr('y1', barTop - 5).attr('y2', barTop + 3);

    g.append('text')
        .attr('x', 505)
        .attr('y', barTop - 13)
        .attr('text-anchor', 'end')
        .style('font-family', serif)
        .style('font-size', '17px')
        .attr('fill', '#111')
        .text(p.barLabel);

    g.append('text')
        .attr('x', 281)
        .attr('y', p.capY + 6)
        .attr('text-anchor', 'middle')
        .style('font-family', '"Liberation Sans", Arial, sans-serif')
        .style('font-size', '17px')
        .attr('fill', '#222')
        .text(p.cap);
}
</script>
</body>
</html>
